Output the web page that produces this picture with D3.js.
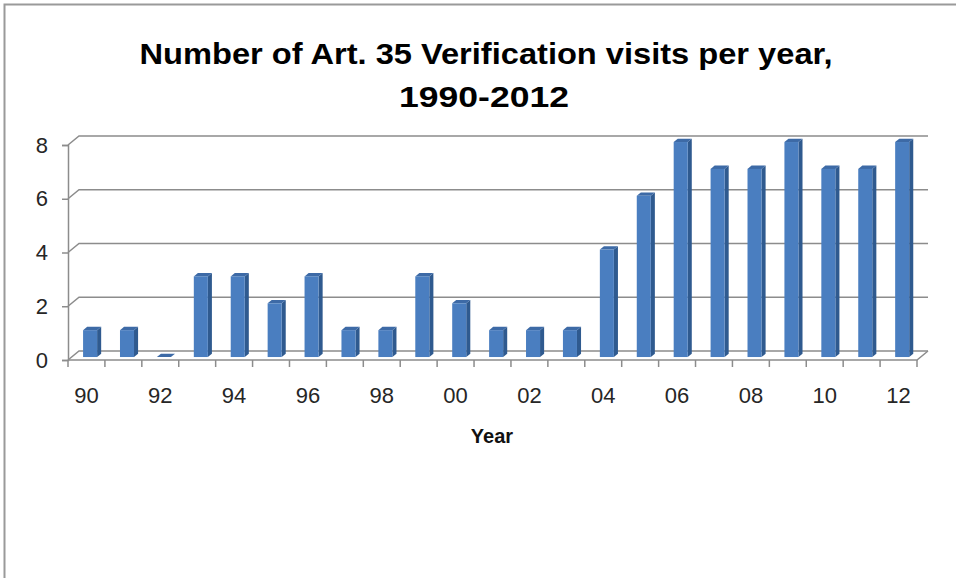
<!DOCTYPE html>
<html>
<head>
  <style>
    body {
        margin: 0;
        background: #fff;
    }
    svg {
        display: block;
        font-family: "Liberation Sans", Arial, sans-serif;
    }
  </style>
</head>
<body>
<script src="https://d3js.org/d3.v7.min.js"></script>
<div id="chart"></div>
<script>
    // Verification visits per year, 1990-2012
    const years = ["90","91","92","93","94","95","96","97","98","99","00","01","02","03","04","05","06","07","08","09","10","11","12"];
    const visits = [1, 1, 0, 3, 3, 2, 3, 1, 1, 3, 2, 1, 1, 1, 4, 6, 8, 7, 7, 8, 7, 7, 8];
    const yTicks = [0, 2, 4, 6, 8];
    const shownYears = ["90","92","94","96","98","00","02","04","06","08","10","12"];

    const width = 956, height = 578;

    // depth of the 3D box (back wall offset)
    const depthX = 11, depthY = -9;

    const svg = d3.select("#chart").append("svg")
      .attr("width", width)
      .attr("height", height);

    // outer frame (only left and top edges show in the picture)
    svg.append("path")
      .attr("d", "M4.5,578 V4.5 H956")
      .attr("fill", "none")
      .attr("stroke", "#9a9a9a")
      .attr("stroke-width", 2);

    const x = d3.scaleBand()
      .domain(years)
      .range([68, 917])
      .padding(0);

    const y = d3.scaleLinear()
      .domain([0, 8])
      .range([360, 145]);

    const grid = svg.append("g")
      .attr("fill", "none")
      .attr("stroke", "#8c8c8c")
      .attr("stroke-width", 1.5);

    // back wall grid lines with the short side wall diagonal
    grid.selectAll(".grid")
      .data(yTicks)
      .join("path")
      .attr("class", "grid")
      .attr("d", d => `M${x.range()[0]},${y(d)} L${x.range()[0] + depthX},${y(d) + depthY} H${x.range()[1] + depthX}`);

    // floor front edge and right diagonal
    grid.append("path")
      .attr("d", `M${x.range()[0]},${y(0)} H${x.range()[1]} L${x.range()[1] + depthX},${y(0) + depthY}`);

    // bars: front face, side face, top face
    const f1 = 0.33, f2 = 0.7;
    const barW = x.bandwidth() * 0.38;
    const bars = svg.append("g")
      .selectAll("g")
      .data(years.map((yr, i) => ({ yr, v: visits[i] })))
      .join("g");

    bars.each(function (d) {
      const g = d3.select(this);
      const x0 = x(d.yr) + (x.bandwidth() - barW) / 2 + depthX * f1;
      const x1 = x0 + barW;
      const yb = y(0) + depthY * f1;
      const yt = y(d.v) + depthY * f1;
      const ddx = depthX * (f2 - f1), ddy = depthY * (f2 - f1);
      // side
      g.append("path")
        .attr("d", `M${x1},${yb} L${x1 + ddx},${yb + ddy} L${x1 + ddx},${yt + ddy} L${x1},${yt} Z`)
        .attr("fill", "#2f5a8f");
      // top
      g.append("path")
        .attr("d", `M${x0},${yt} L${x0 + ddx},${yt + ddy} L${x1 + ddx},${yt + ddy} L${x1},${yt} Z`)
        .attr("fill", "#3d6aa6");
      // front
      g.append("rect")
        .attr("x", x0)
        .attr("y", yt)
        .attr("width", barW)
        .attr("height", yb - yt)
        .attr("fill", "#4a7ec0");
    });

    // y axis
    const yAxis = svg.append("g")
      .attr("transform", `translate(${x.range()[0]},0)`)
      .call(d3.axisLeft(y).tickValues(yTicks).tickSize(6).tickPadding(14));
    yAxis.select(".domain").attr("stroke", "#8c8c8c").attr("stroke-width", 1.5);
    yAxis.selectAll(".tick line").attr("stroke", "#8c8c8c").attr("stroke-width", 1.5);
    yAxis.selectAll(".tick text")
      .attr("fill", "#262626")
      .style("font-size", "22px")
      .style("font-family", "'Liberation Sans', Arial, sans-serif");

    // x axis: tick marks at category boundaries
    const boundaries = years.map(yr => x(yr)).concat([x.range()[1]]);
    svg.append("g")
      .selectAll("line")
      .data(boundaries)
      .join("line")
      .attr("x1", d => d)
      .attr("x2", d => d)
      .attr("y1", y(0))
      .attr("y2", y(0) + 7)
      .attr("stroke", "#8c8c8c")
      .attr("stroke-width", 1.5);

    const xAxis = svg.append("g")
      .attr("transform", `translate(0,${y(0)})`)
      .call(d3.axisBottom(x).tickSize(0).tickPadding(0)
        .tickFormat(d => shownYears.includes(d) ? d : ""));
    xAxis.select(".domain").remove();
    xAxis.selectAll(".tick text")
      .attr("fill", "#262626")
      .attr("y", 43)
      .attr("dy", "0")
      .style("font-size", "22px")
      .style("font-family", "'Liberation Sans', Arial, sans-serif");

    // x axis title
    svg.append("text")
      .attr("x", 492)
      .attr("y", 443)
      .attr("text-anchor", "middle")
      .style("font-size", "20px")
      .style("font-weight", "bold")
      .attr("fill", "#111")
      .text("Year");

    // chart title
    svg.append("text")
      .attr("x", 486)
      .attr("y", 64)
      .attr("text-anchor", "middle")
      .attr("textLength", 693)
      .attr("lengthAdjust", "spacingAndGlyphs")
      .style("font-size", "29px")
      .style("font-weight", "bold")
      .attr("fill", "#000")
      .text("Number of Art. 35 Verification visits per year,");

    svg.append("text")
      .attr("x", 484)
      .attr("y", 107)
      .attr("text-anchor", "middle")
      .attr("textLength", 170)
      .attr("lengthAdjust", "spacingAndGlyphs")
      .style("font-size", "29px")
      .style("font-weight", "bold")
      .attr("fill", "#000")
      .text("1990-2012");
</script>
</body>
</html>
